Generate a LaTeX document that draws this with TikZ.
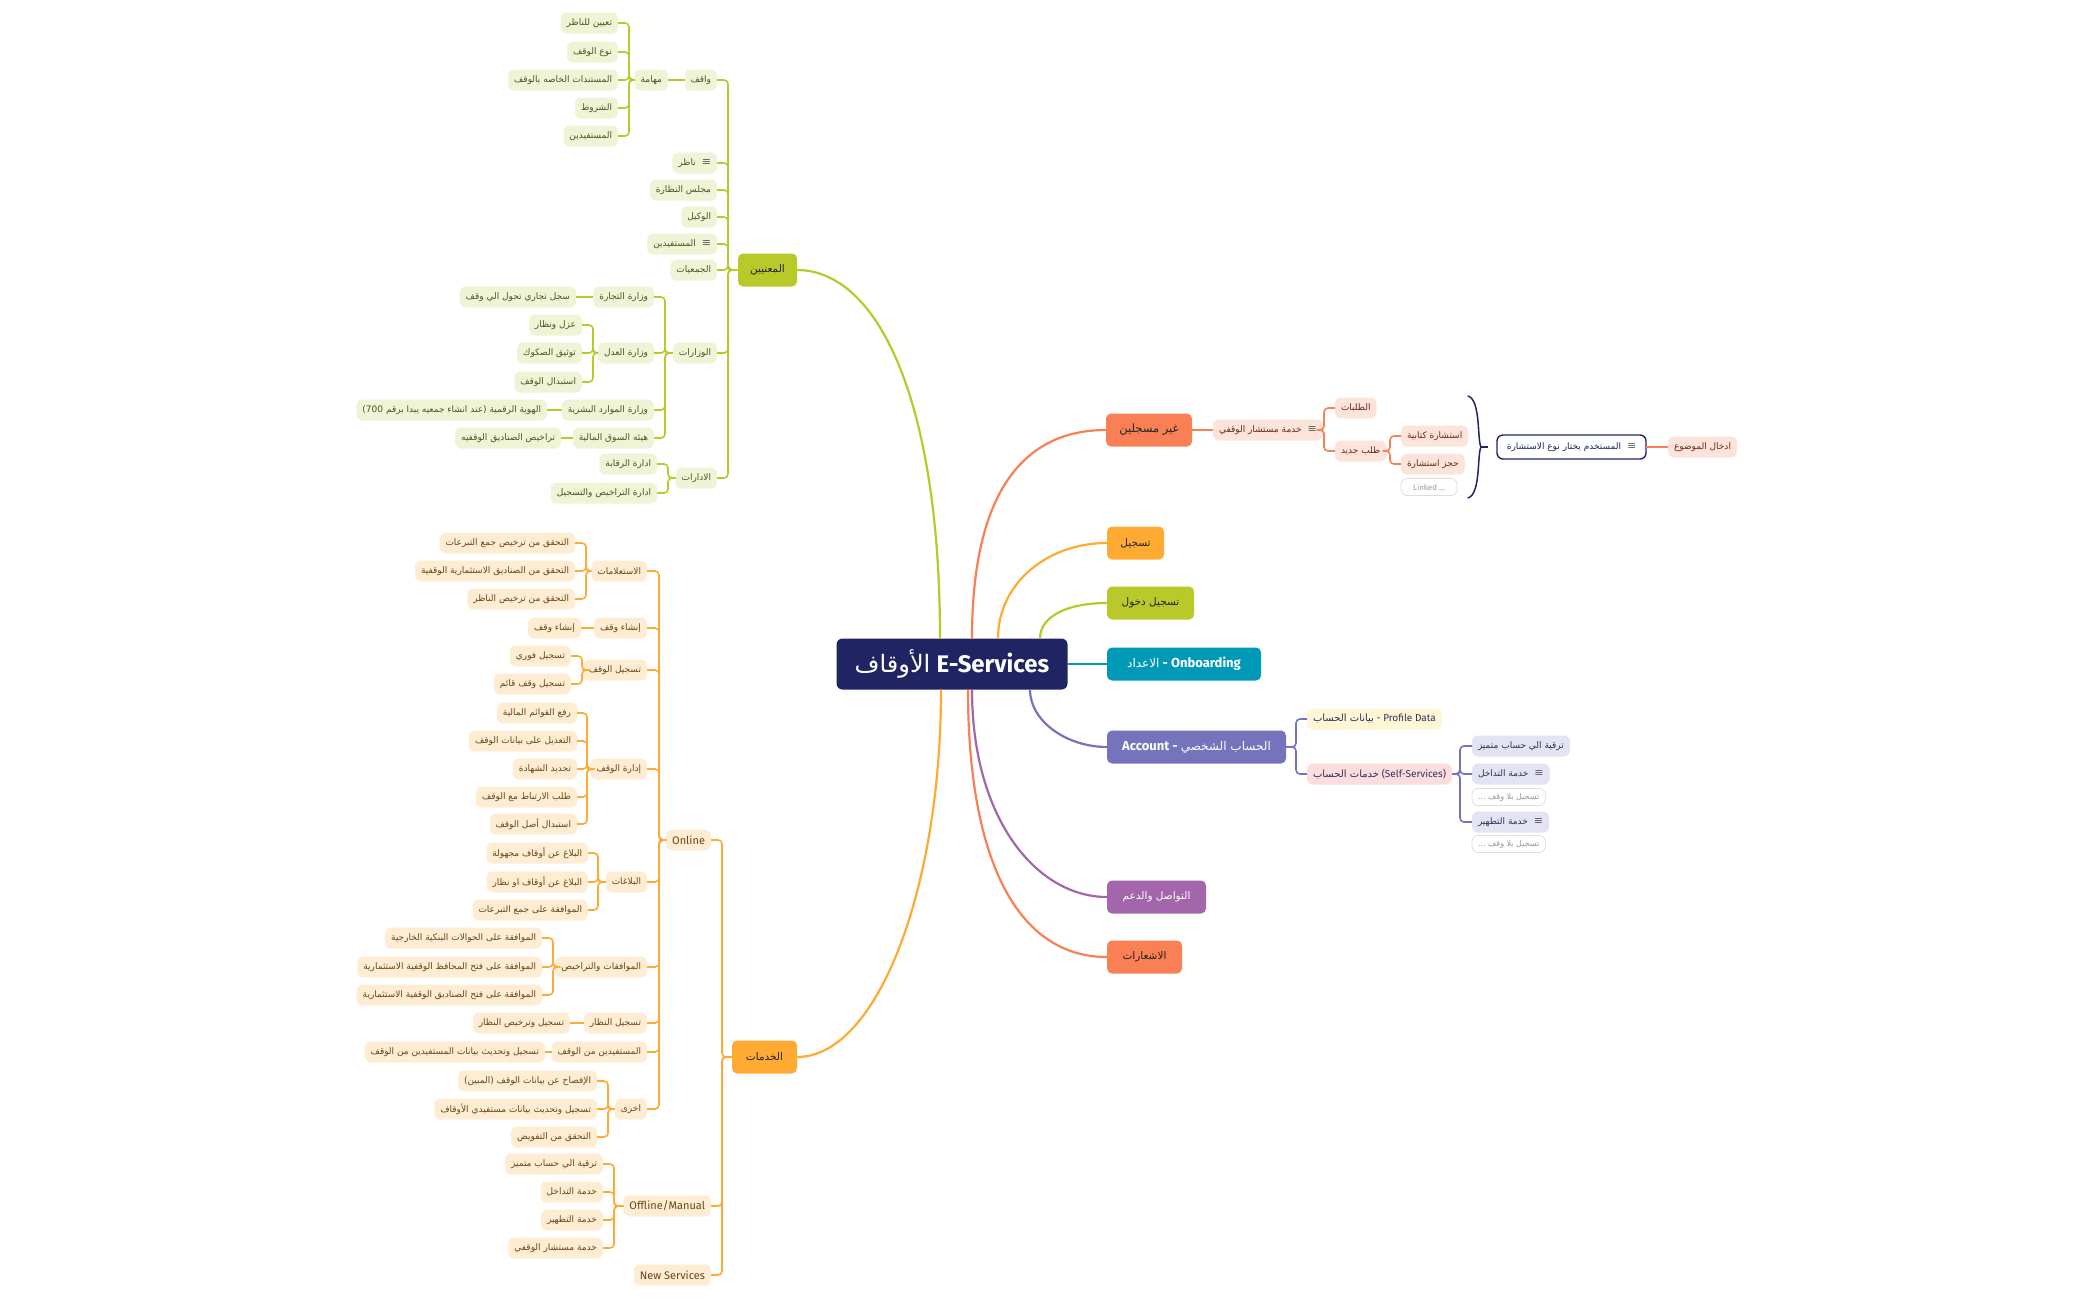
\documentclass[tikz,border=0pt]{standalone}
\usepackage{fontspec}
\setmainfont{Fira Sans}
\newfontfamily\arabicfont[Script=Arabic]{DejaVu Sans}
\newfontfamily\symfont{DejaVu Sans}
\TeXXeTstate=1
\newcommand{\arab}[1]{{\arabicfont\beginR #1\endR}}
\newcommand{\noteic}{\hspace{6pt}{\symfont\color{notegray}\fontsize{11}{11}\selectfont ≡}}
\definecolor{inknavy}{RGB}{32,36,99}
\definecolor{leafgreen}{RGB}{185,201,42}
\definecolor{leaflight}{RGB}{240,244,214}
\definecolor{leaftext}{RGB}{80,84,30}
\definecolor{amber}{RGB}{255,170,51}
\definecolor{amberlight}{RGB}{255,237,211}
\definecolor{ambertext}{RGB}{105,70,22}
\definecolor{coralred}{RGB}{249,128,85}
\definecolor{corallight}{RGB}{253,228,219}
\definecolor{coraltext}{RGB}{105,42,22}
\definecolor{seateal}{RGB}{0,153,184}
\definecolor{lavpurple}{RGB}{118,115,189}
\definecolor{lavlight}{RGB}{228,227,242}
\definecolor{lavtext}{RGB}{50,48,90}
\definecolor{orchidpink}{RGB}{163,102,170}
\definecolor{creamy}{RGB}{255,246,214}
\definecolor{blush}{RGB}{253,221,221}
\definecolor{ghostline}{RGB}{222,222,222}
\definecolor{ghosttext}{RGB}{150,150,150}
\definecolor{notegray}{RGB}{95,95,95}
\definecolor{topicink}{RGB}{35,35,35}

\begin{document}
\begin{tikzpicture}[x=1pt, y=-1pt,
    every node/.style={inner sep=0pt, outer sep=0pt},
    root/.style={fill=inknavy, text=white, rounded corners=6pt, minimum width=231pt, minimum height=51pt, font=\fontsize{24}{28}\selectfont},
    topic/.style={rounded corners=5pt, minimum height=33pt, text=topicink, font=\fontsize{10.5}{12}\selectfont, anchor=west},
    sub/.style={rounded corners=6pt, minimum height=21pt, inner xsep=6pt, font=\fontsize{9}{11}\selectfont},
    latin/.style={font=\fontsize{11}{13}\selectfont},
    gsub/.style={sub, fill=leaflight, text=leaftext, anchor=east},
    osub/.style={sub, fill=amberlight, text=ambertext, anchor=east},
    csub/.style={sub, fill=corallight, text=coraltext, anchor=west},
    psub/.style={sub, fill=lavlight, text=lavtext, anchor=west},
    ghost/.style={sub, draw=ghostline, line width=0.8pt, fill=white, text=ghosttext, anchor=west, minimum height=17pt, font=\fontsize{8}{10}\selectfont},
    userbox/.style={sub, draw=inknavy, line width=1.4pt, fill=white, text=inknavy, anchor=west, minimum width=149pt, minimum height=24pt},
    trunk/.style={line width=2.2pt},
    gline/.style={draw=leafgreen, line width=1.6pt, rounded corners=4pt},
    oline/.style={draw=amber, line width=1.6pt, rounded corners=4pt},
    cline/.style={draw=coralred, line width=1.6pt, rounded corners=4pt},
    pline/.style={draw=lavpurple, line width=1.6pt, rounded corners=4pt}
]
    \fill[white] (0,0) rectangle (2100,1299);
    \useasboundingbox (0,0) rectangle (2100,1299);

    % 1. Root and main topics
    \node[root] (root) at (952,664) {\arab{الأوقاف} \textbf{E-Services}};

    \node[topic, anchor=east, fill=leafgreen, minimum width=59pt] (conc) at (797,270) {\arab{المعنيين}};
    \node[topic, anchor=east, fill=amber, minimum width=65pt] (serv) at (797,1057) {\arab{الخدمات}};
    \node[topic, fill=coralred, minimum width=86pt, font=\fontsize{11.5}{13}\selectfont] (unreg) at (1106,430) {\arab{غير مسجلين}};
    \node[topic, fill=amber, minimum width=57pt] (reg) at (1107,543) {\arab{تسجيل}};
    \node[topic, fill=leafgreen, minimum width=87pt] (login) at (1107,603) {\arab{تسجيل دخول}};
    \node[topic, fill=seateal, text=white, minimum width=154pt, font=\fontsize{12}{14}\selectfont] (onb) at (1107,664) {\arab{الاعداد} {\fontsize{13}{15}\selectfont\bfseries - Onboarding}};
    \node[topic, fill=lavpurple, text=white, minimum width=179pt, font=\fontsize{12}{14}\selectfont] (acc) at (1107,747) {{\fontsize{13}{15}\selectfont\bfseries Account -} \arab{الحساب الشخصي}};
    \node[topic, fill=orchidpink, text=white, minimum width=99pt] (supp) at (1107,897) {\arab{التواصل والدعم}};
    \node[topic, fill=coralred, minimum width=75pt] (notif) at (1107,957) {\arab{الاشعارات}};

    % 2. Trunk curves from the root
    \draw[trunk, leafgreen] ([xshift=-12pt]root.north) .. controls +(0,-240) and +(80,0) .. (conc.east);
    \draw[trunk, coralred] ([xshift=20pt]root.north) .. controls +(0,-150) and +(-80,0) .. (unreg.west);
    \draw[trunk, amber] ([xshift=46pt]root.north) .. controls +(0,-55) and +(-60,0) .. (reg.west);
    \draw[trunk, leafgreen] ([xshift=88pt]root.north) .. controls +(0,-22) and +(-40,0) .. (login.west);
    \draw[trunk, seateal] (root.east) -- (onb.west);
    \draw[trunk, lavpurple] ([xshift=78pt]root.south) .. controls +(0,32) and +(-40,0) .. (acc.west);
    \draw[trunk, orchidpink] ([xshift=20pt]root.south) .. controls +(0,130) and +(-70,0) .. (supp.west);
    \draw[trunk, coralred] ([xshift=16pt]root.south) .. controls +(0,170) and +(-90,0) .. (notif.west);
    \draw[trunk, amber] ([xshift=-11pt]root.south) .. controls +(0,200) and +(80,0) .. (serv.east);

    % 3. Stakeholders branch
    \node[gsub] (wa) at (717,80) {\arab{واقف}};
    \node[gsub] (na) at (717,163) {\arab{ناظر}\noteic};
    \node[gsub] (mj) at (717,190) {\arab{مجلس النظارة}};
    \node[gsub] (wk) at (717,217) {\arab{الوكيل}};
    \node[gsub] (ms) at (717,244) {\arab{المستفيدين}\noteic};
    \node[gsub] (jm) at (717,270) {\arab{الجمعيات}};
    \node[gsub] (wz) at (717,353) {\arab{الوزارات}};
    \node[gsub] (id) at (717,478) {\arab{الادارات}};

    \node[gsub] (mh) at (668,80) {\arab{مهامة}};
    \node[gsub] (wa1) at (618,23) {\arab{تعيين للناظر}};
    \node[gsub] (wa2) at (618,52) {\arab{نوع الوقف}};
    \node[gsub] (wa3) at (618,80) {\arab{المستندات الخاصه بالوقف}};
    \node[gsub] (wa4) at (618,108) {\arab{الشروط}};
    \node[gsub] (wa5) at (618,136) {\arab{المستفيدين}};

    \node[gsub] (wz1) at (654,297) {\arab{وزارة التجارة}};
    \node[gsub] (wz2) at (654,353) {\arab{وزارة العدل}};
    \node[gsub] (wz3) at (654,410) {\arab{وزارة الموارد البشرية}};
    \node[gsub] (wz4) at (654,438) {\arab{هيئه السوق المالية}};
    \node[gsub] (tj) at (576,297) {\arab{سجل تجاري تحول الي وقف}};
    \node[gsub] (ad1) at (582,325) {\arab{عزل ونظار}};
    \node[gsub] (ad2) at (582,353) {\arab{توثيق الصكوك}};
    \node[gsub] (ad3) at (582,382) {\arab{استبدال الوقف}};
    \node[gsub] (hw) at (547,410) {\arab{الهوية الرقمية (عند انشاء جمعيه يبدا برقم \beginL 700\endL)}};
    \node[gsub] (tr) at (561,438) {\arab{تراخيص الصناديق الوقفيه}};
    \node[gsub] (id1) at (657,464) {\arab{ادارة الرقابة}};
    \node[gsub] (id2) at (657,493) {\arab{ادارة التراخيص والتسجيل}};

    \coordinate (sConc) at (728,0);
    \coordinate (sMh) at (629,0);
    \coordinate (sWz) at (665,0);
    \coordinate (sWz2) at (593,0);
    \coordinate (sId) at (668,0);
    \foreach \kid in {wa,na,mj,wk,ms,jm,wz,id}
        \draw[gline] (conc.west) -- (conc.west -| sConc) |- (\kid.east);
    \draw[gline] (wa.west) -- (mh.east);
    \foreach \kid in {wa1,wa2,wa3,wa4,wa5}
        \draw[gline] (mh.west) -- (mh.west -| sMh) |- (\kid.east);
    \foreach \kid in {wz1,wz2,wz3,wz4}
        \draw[gline] (wz.west) -- (wz.west -| sWz) |- (\kid.east);
    \draw[gline] (wz1.west) -- (tj.east);
    \foreach \kid in {ad1,ad2,ad3}
        \draw[gline] (wz2.west) -- (wz2.west -| sWz2) |- (\kid.east);
    \draw[gline] (wz3.west) -- (hw.east);
    \draw[gline] (wz4.west) -- (tr.east);
    \foreach \kid in {id1,id2}
        \draw[gline] (id.west) -- (id.west -| sId) |- (\kid.east);

    % 4. Services branch
    \node[osub, latin] (on) at (711,840) {Online};
    \node[osub, latin] (off) at (711,1206) {Offline/Manual};
    \node[osub, latin] (ns) at (711,1275) {New Services};

    \node[osub] (q1) at (647,571) {\arab{الاستعلامات}};
    \node[osub] (q2) at (647,628) {\arab{إنشاء وقف}};
    \node[osub] (q3) at (647,670) {\arab{تسجيل الوقف}};
    \node[osub] (q4) at (647,769) {\arab{إدارة الوقف}};
    \node[osub] (q5) at (647,882) {\arab{البلاغات}};
    \node[osub] (q6) at (647,967) {\arab{الموافقات والتراخيص}};
    \node[osub] (q7) at (647,1023) {\arab{تسجيل النظار}};
    \node[osub] (q8) at (647,1052) {\arab{المستفيدين من الوقف}};
    \node[osub] (q9) at (647,1109) {\arab{اخرى}};

    \node[osub] (q11) at (575,543) {\arab{التحقق من ترخيص جمع التبرعات}};
    \node[osub] (q12) at (575,571) {\arab{التحقق من الصناديق الاستثمارية الوقفية}};
    \node[osub] (q13) at (575,599) {\arab{التحقق من ترخيص الناظر}};
    \node[osub] (q21) at (581,628) {\arab{إنشاء وقف}};
    \node[osub] (q31) at (571,656) {\arab{تسجيل فوري}};
    \node[osub] (q32) at (571,684) {\arab{تسجيل وقف قائم}};
    \node[osub] (q41) at (577,713) {\arab{رفع القوائم المالية}};
    \node[osub] (q42) at (577,741) {\arab{التعديل على بيانات الوقف}};
    \node[osub] (q43) at (577,769) {\arab{تجديد الشهادة}};
    \node[osub] (q44) at (577,797) {\arab{طلب الارتباط مع الوقف}};
    \node[osub] (q45) at (577,824) {\arab{استبدال أصل الوقف}};
    \node[osub] (q51) at (588,853) {\arab{البلاغ عن أوقاف مجهولة}};
    \node[osub] (q52) at (588,882) {\arab{البلاغ عن أوقاف او نظار}};
    \node[osub] (q53) at (588,910) {\arab{الموافقة على جمع التبرعات}};
    \node[osub] (q61) at (542,938) {\arab{الموافقة على الحوالات البنكية الخارجية}};
    \node[osub] (q62) at (542,967) {\arab{الموافقة على فتح المحافظ الوقفية الاستثمارية}};
    \node[osub] (q63) at (542,995) {\arab{الموافقة على فتح الصناديق الوقفية الاستثمارية}};
    \node[osub] (q71) at (570,1023) {\arab{تسجيل وترخيص النظار}};
    \node[osub] (q81) at (545,1052) {\arab{تسجيل وتحديث بيانات المستفيدين من الوقف}};
    \node[osub] (q91) at (597,1081) {\arab{الإفصاح عن بيانات الوقف (المبين)}};
    \node[osub] (q92) at (597,1109) {\arab{تسجيل وتحديث بيانات مستفيدي الأوقاف}};
    \node[osub] (q93) at (597,1137) {\arab{التحقق من التفويض}};

    \node[osub] (f1) at (603,1164) {\arab{ترقية الي حساب متميز}};
    \node[osub] (f2) at (603,1192) {\arab{خدمة التداخل}};
    \node[osub] (f3) at (603,1220) {\arab{خدمة التطهير}};
    \node[osub] (f4) at (603,1248) {\arab{خدمة مستشار الوقفي}};

    \coordinate (sServ) at (722,0);
    \coordinate (sOn) at (659,0);
    \coordinate (sQ1) at (586,0);
    \coordinate (sQ3) at (582,0);
    \coordinate (sQ4) at (587,0);
    \coordinate (sQ5) at (598,0);
    \coordinate (sQ6) at (553,0);
    \coordinate (sQ9) at (608,0);
    \coordinate (sOff) at (614,0);
    \foreach \kid in {on,off,ns}
        \draw[oline] (serv.west) -- (serv.west -| sServ) |- (\kid.east);
    \foreach \kid in {q1,q2,q3,q4,q5,q6,q7,q8,q9}
        \draw[oline] (on.west) -- (on.west -| sOn) |- (\kid.east);
    \foreach \kid in {q11,q12,q13}
        \draw[oline] (q1.west) -- (q1.west -| sQ1) |- (\kid.east);
    \draw[oline] (q2.west) -- (q21.east);
    \foreach \kid in {q31,q32}
        \draw[oline] (q3.west) -- (q3.west -| sQ3) |- (\kid.east);
    \foreach \kid in {q41,q42,q43,q44,q45}
        \draw[oline] (q4.west) -- (q4.west -| sQ4) |- (\kid.east);
    \foreach \kid in {q51,q52,q53}
        \draw[oline] (q5.west) -- (q5.west -| sQ5) |- (\kid.east);
    \foreach \kid in {q61,q62,q63}
        \draw[oline] (q6.west) -- (q6.west -| sQ6) |- (\kid.east);
    \draw[oline] (q7.west) -- (q71.east);
    \draw[oline] (q8.west) -- (q81.east);
    \foreach \kid in {q91,q92,q93}
        \draw[oline] (q9.west) -- (q9.west -| sQ9) |- (\kid.east);
    \foreach \kid in {f1,f2,f3,f4}
        \draw[oline] (off.west) -- (off.west -| sOff) |- (\kid.east);

    % 5. Unregistered users branch
    \node[csub, minimum width=101pt] (ks) at (1213,430) {\arab{خدمة مستشار الوقفي}\noteic};
    \node[csub] (tl) at (1335,408) {\arab{الطلبات}};
    \node[csub] (nr) at (1335,451) {\arab{طلب جديد}};
    \node[csub] (k1) at (1401,436) {\arab{استشارة كتابية}};
    \node[csub] (k2) at (1401,464) {\arab{حجز استشارة}};
    \node[ghost, minimum width=56pt] (lk) at (1401,487) {Linked ...};
    \node[userbox] (us) at (1497,447) {\arab{المستخدم يختار نوع الاستشارة}\noteic};
    \node[csub] (dk) at (1668,447) {\arab{ادخال الموضوع}};

    \coordinate (sKs) at (1324,0);
    \coordinate (sNr) at (1390,0);
    \draw[cline] (unreg.east) -- (ks.west);
    \foreach \kid in {tl,nr}
        \draw[cline] (ks.east) -- (ks.east -| sKs) |- (\kid.west);
    \foreach \kid in {k1,k2}
        \draw[cline] (nr.east) -- (nr.east -| sNr) |- (\kid.west);
    \draw[inknavy, line width=1.5pt, line cap=round] (1468,396) .. controls (1481,400) and (1477,440) .. (1481,447) .. controls (1477,454) and (1481,494) .. (1468,498);
    \draw[inknavy, line width=1.5pt] (1481,447) -- (1488,447);
    \draw[cline] (us.east) -- (dk.west);

    % 6. Account branch
    \node[psub, fill=creamy, font=\fontsize{10}{12}\selectfont] (pd) at (1307,719) {\arab{بيانات الحساب} - Profile Data};
    \node[psub, fill=blush, font=\fontsize{10}{12}\selectfont] (ss) at (1307,774) {\arab{خدمات الحساب} (Self-Services)};
    \node[psub] (u1) at (1472,746) {\arab{ترقية الي حساب متميز}};
    \node[psub] (u2) at (1472,774) {\arab{خدمة التداخل}\noteic};
    \node[ghost, minimum width=73pt] (g1) at (1472,797) {\arab{تسجيل بلا وقف ...}};
    \node[psub] (u3) at (1472,822) {\arab{خدمة التطهير}\noteic};
    \node[ghost, minimum width=73pt] (g2) at (1472,844) {\arab{تسجيل بلا وقف ...}};

    \coordinate (sAcc) at (1296,0);
    \coordinate (sSs) at (1460,0);
    \foreach \kid in {pd,ss}
        \draw[pline] (acc.east) -- (acc.east -| sAcc) |- (\kid.west);
    \foreach \kid in {u1,u2,u3}
        \draw[pline] (ss.east) -- (ss.east -| sSs) |- (\kid.west);

\end{tikzpicture}
\end{document}
